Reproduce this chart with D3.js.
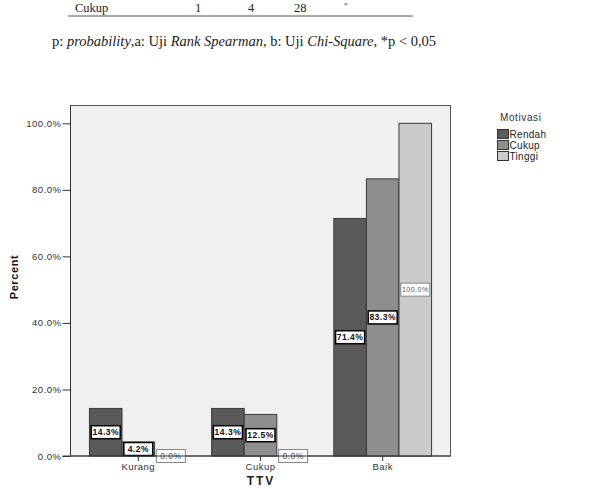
<!DOCTYPE html>
<html>
<head>
<meta charset="utf-8">
<script src="https://cdn.jsdelivr.net/npm/d3@7"></script>
<style>
  body { margin: 0; background: #fff; }
  svg { display: block; }
</style>
</head>
<body>
<svg id="chart"></svg>
<script>
var width = 612,
    height = 489;

// data
var groups = ['Kurang', 'Cukup', 'Baik'];
var motivasi = ['Rendah', 'Cukup', 'Tinggi'];
var rendah = [14.3, 14.3, 71.4];
var cukup = [4.2, 12.5, 83.3];
var tinggi = [0.0, 0.0, 100.0];
var yTicks = [0, 20, 40, 60, 80, 100];

var tableRow = ['Cukup', '1', '4', '28', '*'];
var tableX = [75, 195, 248, 294, 344];

var fill = d3.scaleOrdinal(motivasi, ['#5a5a5a', '#8e8e8e', '#cbcbcb']);
var labelStroke = d3.scaleOrdinal(motivasi, ['#000', '#000', '#888']);

var svg = d3.select('#chart')
  .attr('width', width)
  .attr('height', height);

// table remnant on top of the page
svg.selectAll('text.row')
  .data(tableRow)
  .join('text')
  .attr('class', 'row')
  .attr('x', function(d, i) { return tableX[i]; })
  .attr('y', function(d, i) { return i == 4 ? 7 : 12; })
  .style('font-family', '"Liberation Serif", "Times New Roman", serif')
  .style('font-size', function(d, i) { return i == 4 ? '7px' : '12.5px'; })
  .style('fill', '#222')
  .text(function(d) { return d; });

svg.append('line')
  .attr('x1', 68).attr('x2', 413)
  .attr('y1', 16).attr('y2', 16)
  .style('stroke', '#555')
  .style('stroke-width', 1);

var note = svg.append('text')
  .attr('x', 52)
  .attr('y', 46)
  .style('font-family', '"Liberation Serif", "Times New Roman", serif')
  .style('font-size', '14.5px')
  .style('fill', '#222');
note.append('tspan').text('p: ');
note.append('tspan').style('font-style', 'italic').text('probability');
note.append('tspan').text(',a: Uji ');
note.append('tspan').style('font-style', 'italic').text('Rank Spearman');
note.append('tspan').text(', b: Uji ');
note.append('tspan').style('font-style', 'italic').text('Chi-Square');
note.append('tspan').text(', *p < 0,05');

// chart area
var plot = { left: 70.5, right: 450.5, top: 105.5, bottom: 456 };

var x0 = d3.scaleBand()
  .domain(groups)
  .range([plot.left, plot.right])
  .paddingInner(0.2)
  .paddingOuter(0.155);

var x1 = d3.scaleBand()
  .domain(motivasi)
  .range([0, x0.bandwidth()]);

var y = d3.scaleLinear()
  .domain([0, 100])
  .range([plot.bottom, 123.3]);

svg.append('rect')
  .attr('x', plot.left)
  .attr('y', plot.top)
  .attr('width', plot.right - plot.left)
  .attr('height', plot.bottom - plot.top)
  .style('fill', '#f0f0f0')
  .style('stroke', '#555')
  .style('stroke-width', 1);

var rows = groups.map(function(g, i) {
  return { group: g, values: [rendah[i], cukup[i], tinggi[i]] };
});

var bars = [];
rows.forEach(function(r) {
  r.values.forEach(function(v, j) {
    bars.push({ group: r.group, key: motivasi[j], value: v });
  });
});

var g = svg.append('g');

g.selectAll('rect.bar')
  .data(bars.filter(function(d) { return d.value > 0; }))
  .join('rect')
  .attr('class', 'bar')
  .attr('x', function(d) { return x0(d.group) + x1(d.key); })
  .attr('y', function(d) { return y(d.value); })
  .attr('width', x1.bandwidth())
  .attr('height', function(d) { return y(0) - y(d.value); })
  .style('fill', function(d) { return fill(d.key); })
  .style('stroke', '#3a3a3a')
  .style('stroke-width', 1);

// axes
var yAxis = d3.axisLeft(y)
  .tickValues(yTicks)
  .tickSize(8)
  .tickPadding(1)
  .tickFormat(function(d) { return d3.format('.1f')(d) + '%'; });

var ya = svg.append('g')
  .attr('transform', 'translate(' + plot.left + ',0)')
  .call(yAxis);
ya.select('.domain').remove();
ya.append('line')
  .attr('y1', plot.top).attr('y2', plot.bottom)
  .style('stroke', '#333');

var xAxis = d3.axisBottom(x0)
  .tickSize(5)
  .tickPadding(2);

var xa = svg.append('g')
  .attr('transform', 'translate(0,' + plot.bottom + ')')
  .call(xAxis);
xa.select('.domain').remove();
xa.append('line')
  .attr('x1', plot.left - 8).attr('x2', plot.right)
  .style('stroke', '#333');

svg.selectAll('.tick line').style('stroke', '#333');
svg.selectAll('.tick text')
  .style('font-family', '"Liberation Sans", Arial, sans-serif')
  .style('font-size', '9.5px')
  .style('letter-spacing', '0.5px')
  .style('fill', '#333');

// value labels in the middle of each bar
var labels = g.selectAll('g.lab')
  .data(bars)
  .join('g')
  .attr('class', 'lab')
  .attr('transform', function(d) {
    var cx = x0(d.group) + x1(d.key) + x1.bandwidth() / 2;
    var cy = (y(d.value) + y(0)) / 2;
    return 'translate(' + cx + ',' + cy + ')';
  });

labels.append('rect')
  .attr('x', -14.5)
  .attr('y', -6.5)
  .attr('width', 29)
  .attr('height', 13)
  .style('fill', '#fff')
  .style('stroke', function(d) { return labelStroke(d.key); })
  .style('stroke-width', function(d) { return d.key == 'Tinggi' ? 1 : 1.5; });

labels.append('text')
  .attr('text-anchor', 'middle')
  .attr('dy', '0.35em')
  .style('font-family', '"Liberation Sans", Arial, sans-serif')
  .style('font-size', function(d) { return d.value == 100 ? '7px' : '8.5px'; })
  .style('letter-spacing', '0.5px')
  .style('font-weight', function(d) { return d.key == 'Tinggi' ? 'normal' : 'bold'; })
  .style('fill', function(d) { return d.key == 'Tinggi' ? '#555' : '#111'; })
  .text(function(d) { return d3.format('.1f')(d.value) + '%'; });

// axis titles
svg.append('text')
  .attr('transform', 'translate(18,' + 277 + ') rotate(-90)')
  .attr('text-anchor', 'middle')
  .style('font-family', '"Liberation Sans", Arial, sans-serif')
  .style('font-size', '11px')
  .style('font-weight', 'bold')
  .style('letter-spacing', '0.6px')
  .style('fill', '#111')
  .text('Percent');

svg.append('text')
  .attr('x', 261)
  .attr('y', 485)
  .attr('text-anchor', 'middle')
  .style('font-family', '"Liberation Sans", Arial, sans-serif')
  .style('font-size', '12px')
  .style('font-weight', 'bold')
  .style('letter-spacing', '2px')
  .style('fill', '#222')
  .text('TTV');

// legend
var legend = svg.append('g')
  .attr('transform', 'translate(497,0)');

legend.append('text')
  .attr('x', 3)
  .attr('y', 121)
  .style('font-family', '"Liberation Sans", Arial, sans-serif')
  .style('font-size', '10px')
  .style('letter-spacing', '0.6px')
  .style('fill', '#333')
  .text('Motivasi');

var items = legend.selectAll('g.item')
  .data(motivasi)
  .join('g')
  .attr('class', 'item')
  .attr('transform', function(d, i) { return 'translate(0,' + (129 + i * 11) + ')'; });

items.append('rect')
  .attr('x', 0.5)
  .attr('y', 0.5)
  .attr('width', 11)
  .attr('height', 9)
  .style('fill', function(d) { return fill(d); })
  .style('stroke', '#333');

items.append('text')
  .attr('x', 12.5)
  .attr('y', 9)
  .style('font-family', '"Liberation Sans", Arial, sans-serif')
  .style('font-size', '10px')
  .style('letter-spacing', '0.3px')
  .style('fill', '#222')
  .text(function(d) { return d; });
</script>
</body>
</html>
